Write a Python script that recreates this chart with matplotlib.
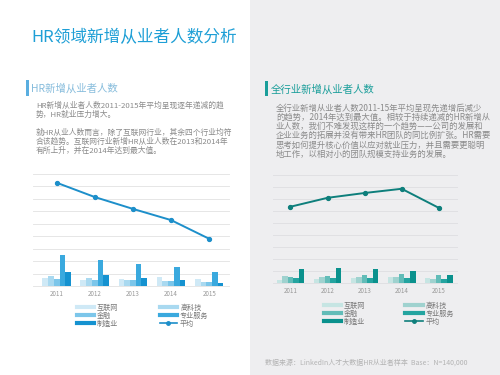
import matplotlib
matplotlib.use('Agg')
import matplotlib.pyplot as plt
from matplotlib.patches import Rectangle
from matplotlib.lines import Line2D
import numpy as np

plt.rcParams['font.family'] = ['Noto Sans CJK SC', 'DejaVu Sans']

years = ['2011', '2012', '2013', '2014', '2015']
industries = ['互联网', '高科技', '金融', '专业服务', '制造业']

# HR new hires by industry (left chart)
hr_internet = [0.62, 0.48, 0.56, 0.73, 0.56]
hr_tech = [0.80, 0.67, 0.48, 0.40, 0.30]
hr_finance = [0.54, 0.48, 0.48, 0.40, 0.30]
hr_service = [2.50, 2.10, 1.77, 1.53, 1.16]
hr_manufacture = [1.16, 0.89, 0.67, 0.48, 0.22]
hr_avg = [8.3, 7.15, 6.2, 5.3, 3.8]

# all-industry new hires (right chart)
all_internet = [0.28, 0.36, 0.42, 0.50, 0.47]
all_tech = [0.61, 0.56, 0.50, 0.50, 0.33]
all_finance = [0.56, 0.61, 0.72, 0.78, 0.67]
all_service = [0.42, 0.47, 0.47, 0.47, 0.39]
all_manufacture = [1.20, 1.25, 1.20, 1.06, 0.72]
all_avg = [6.36, 7.1, 7.5, 7.85, 6.27]

blue_cols = ['#cfe9f6', '#a9d9f0', '#7cc6ea', '#3aa9de', '#1592d0']
teal_cols = ['#c6e5e3', '#9fd2cf', '#62bcb8', '#24a4a0', '#0a918d']
blue_line = '#1d8fca'
teal_line = '#0e7f7c'

fig = plt.figure(figsize=(5, 3.75), dpi=100)
fig.patch.set_facecolor('white')
fig.add_artist(Rectangle((0.5, 0), 0.5, 1, transform=fig.transFigure,
                         facecolor='#eeeef0', edgecolor='none', zorder=0))


def draw_chart(rect, xlim, series, avg, cols, line_col, grid_col, leg_pos, leg_colsp):
    ax = fig.add_axes(rect)
    ax.set_facecolor('none')
    x = np.arange(len(years))
    w = 0.15
    for i, vals in enumerate(series):
        ax.bar(x + (i - 2) * w, vals, w, color=cols[i], zorder=2)
    ax.plot(x, avg, color=line_col, lw=1.4, marker='o', ms=2.8, zorder=3)
    ax.set_xlim(*xlim)
    ax.set_ylim(0, 9)
    for g in range(10):
        ax.axhline(g, color=grid_col, lw=0.7, zorder=1, clip_on=False)
    ax.set_yticks([])
    ax.set_xticks(x)
    ax.set_xticklabels(years, fontsize=4.5, color='#999999')
    ax.tick_params(axis='x', length=0, pad=3)
    for s in ax.spines.values():
        s.set_visible(False)
    handles = [
        Line2D([], [], color=cols[0], lw=3),
        Line2D([], [], color=cols[2], lw=3),
        Line2D([], [], color=cols[4], lw=3),
        Line2D([], [], color=cols[1], lw=3),
        Line2D([], [], color=cols[3], lw=3),
        Line2D([], [], color=line_col, lw=1.2, marker='o', ms=2.5),
    ]
    labels = [industries[0], industries[2], industries[4],
              industries[1], industries[3], '平均']
    fig.legend(handles, labels, ncol=2, loc='upper left', bbox_to_anchor=leg_pos,
               frameon=False, fontsize=5.1, handlelength=2.5, handletextpad=0.4,
               labelspacing=0.0, columnspacing=leg_colsp, labelcolor='#777777',
               borderpad=0)
    return ax


draw_chart([0.066, 0.237, 0.392, 0.299], (-0.62, 4.52),
           [hr_internet, hr_tech, hr_finance, hr_service, hr_manufacture],
           hr_avg, blue_cols, blue_line, '#e6e6e6', (73 / 500, 1 - 300 / 375), 5.8)
draw_chart([0.545, 0.2445, 0.368, 0.289], (-0.485, 4.48),
           [all_internet, all_tech, all_finance, all_service, all_manufacture],
           all_avg, teal_cols, teal_line, '#e0e0e3', (320 / 500, 1 - 298 / 375), 5.6)

# titles
fig.text(0.062, 1 - 38 / 375, 'HR领域新增从业者人数分析', fontsize=12,
         color='#1e9fd6', va='center', ha='left')

fig.add_artist(Rectangle((26 / 500, 1 - 96 / 375), 2.5 / 500, 16 / 375,
                         transform=fig.transFigure, facecolor='#5aaee0',
                         edgecolor='none'))
fig.text(31 / 500, 1 - 88 / 375, 'HR新增从业者人数', fontsize=7.5,
         color='#86bcdc', va='center', ha='left')

fig.add_artist(Rectangle((265 / 500, 1 - 96 / 375), 2.5 / 500, 15 / 375,
                         transform=fig.transFigure, facecolor='#1a9e9a',
                         edgecolor='none'))
fig.text(271 / 500, 1 - 89 / 375, '全行业新增从业者人数', fontsize=7.5,
         color='#1a9e9a', va='center', ha='left')

left_lines = [
    'HR新增从业者人数2011-2015年平均呈现逐年递减的趋',
    '势，HR就业压力增大。',
    '',
    '就HR从业人数而言，除了互联网行业，其余四个行业均符',
    '合该趋势。互联网行业新增HR从业人数在2013和2014年',
    '有所上升，并在2014年达到最大值。',
]
for i, line in enumerate(left_lines):
    fig.text(36 / 500, 1 - (106 + i * 9.0) / 375, line, fontsize=5.6,
             color='#8a8a8a', va='center', ha='left')

right_lines = [
    '全行业新增从业者人数2011-15年平均呈现先递增后减少',
    '的趋势，2014年达到最大值。相较于持续递减的HR新增从',
    '业人数，我们不难发现这样的一个趋势——公司的发展和',
    '企业业务的拓展并没有带来HR团队的同比例扩张。HR需要',
    '思考如何提升核心价值以应对就业压力，并且需要更聪明',
    '地工作，以相对小的团队规模支持业务的发展。',
]
for i, line in enumerate(right_lines):
    fig.text(276 / 500, 1 - (108 + i * 9.2) / 375, line, fontsize=6.0,
             color='#8a8a8a', va='center', ha='left')

fig.text(265 / 500, 1 - 363 / 375,
         '数据来源：LinkedIn人才大数据HR从业者样本  Base：N=140,000',
         fontsize=5.0, color='#b3b3b3', va='center', ha='left')

fig.savefig('out.png', dpi=100)
